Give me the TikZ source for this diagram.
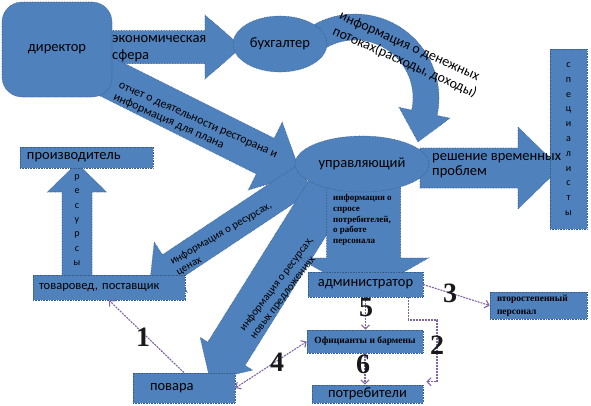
\documentclass[tikz,border=0pt]{standalone}
\usepackage{fontspec}
\setmainfont{Carlito}
\newfontfamily\timesfont{Liberation Serif}
\usetikzlibrary{calc,arrows.meta,shapes.geometric}

\definecolor{boxblue}{RGB}{79,129,189}
\definecolor{edgeblue}{RGB}{56,93,138}
\definecolor{linkpurple}{RGB}{128,100,162}

\newcommand{\mainsize}{\fontsize{14.5}{17}\selectfont}
\newcommand{\smallbold}{\timesfont\bfseries\fontsize{9}{10.8}\selectfont}

% block arrow: style, start, tip, shaft half width, head half width, head length
\newcommand{\blockarrow}[6]{%
  \coordinate (ba-h) at ($(#3)!#6!(#2)$);
  \path[#1] ($(#2)!#4!90:(#3)$) -- ($(ba-h)!#4!90:(#3)$) -- ($(ba-h)!#5!90:(#3)$)
    -- (#3) -- ($(ba-h)!#5!-90:(#3)$) -- ($(ba-h)!#4!-90:(#3)$) -- ($(#2)!#4!-90:(#3)$) -- cycle;
}

\begin{document}
\begin{tikzpicture}[x=1pt, y=-1pt,
  blk/.style={fill=boxblue, draw=edgeblue, line width=0.6pt, densely dotted},
  box/.style={blk, rectangle, inner sep=0pt, font=\mainsize},
  oval/.style={blk, ellipse, inner sep=0pt, font=\mainsize},
  link/.style={draw=linkpurple, line width=1.1pt, dash pattern=on 2pt off 1pt},
  >={Straight Barb[length=4pt,width=8pt]},
  num/.style={font=\timesfont\bfseries\fontsize{28}{28}\selectfont, text=black!90, inner sep=0pt},
  lbl/.style={inner sep=0pt, align=left}]
  \useasboundingbox (0,0) rectangle (591,405);

  % curved arrow from the accountant down to the manager
  \path[blk, shift={(355,98)}] (-125:84) arc[start angle=-125, end angle=12, radius=84]
    -- (12:97) -- (63,44) -- (12:45) -- (12:58) arc[start angle=12, end angle=-125, radius=58] -- cycle;

  % block arrows
  \blockarrow{blk}{110,47}{242,47}{16.5pt}{32pt}{37pt}
  \blockarrow{blk}{95,71}{301,174}{20pt}{38pt}{40pt}
  \blockarrow{blk}{420,168}{560,168}{20pt}{41pt}{42pt}
  \blockarrow{blk}{305,178}{150,281}{15pt}{30pt}{25pt}
  \blockarrow{blk}{330,188}{210,380}{22pt}{31pt}{31pt}
  \blockarrow{blk}{363.5,185}{363.5,295}{37pt}{65pt}{37pt}
  \blockarrow{blk}{77,277}{77,163}{15pt}{29.5pt}{29pt}

  % boxes
  \node[box, rounded corners=20pt, minimum width=110pt, minimum height=95pt] (director) at (57,49.5) {директор};
  \node[oval, minimum width=94pt, minimum height=56pt] (buh) at (280,44) {бухгалтер};
  \node[oval, minimum width=134pt, minimum height=56pt] (upr) at (362,164) {управляющий};
  \node[box, minimum width=37pt, minimum height=180pt, align=center, font=\fontsize{10}{14.8}\selectfont] (spec) at (568.5,139) {с\\п\\е\\ц\\и\\а\\л\\и\\с\\т\\ы};
  \node[box, minimum width=133pt, minimum height=21pt, text width=119pt, align=left] (proizv) at (86.5,157.5) {производитель};
  \node[box, minimum width=152pt, minimum height=25pt, text width=140pt, align=left, font=\fontsize{12.5}{15}\selectfont] (tovar) at (109,287.5) {товаровед, поставщик};
  \node[box, minimum width=115pt, minimum height=25pt] (admin) at (365.5,284.5) {администратор};
  \node[box, minimum width=97pt, minimum height=27pt, text width=83pt, align=left, font=\timesfont\bfseries\fontsize{9.5}{13}\selectfont] (vtor) at (538.5,305.5) {второстепенный\\персонал};
  \node[box, minimum width=116pt, minimum height=23pt, font=\timesfont\bfseries\fontsize{9.5}{12}\selectfont] (ofic) at (365,341.5) {Официанты и бармены};
  \node[box, minimum width=111pt, minimum height=18pt] (potr) at (367.5,394) {потребители};
  \node[box, minimum width=102pt, minimum height=30pt, text width=68pt, align=left] (povara) at (184,388) {повара};

  % texts on the arrows
  \node[lbl, anchor=west, font=\fontsize{14.5}{17}\selectfont] (ekon) at (112,48.5) {экономическая\\сфера};
  \node[lbl, rotate=-24, font=\fontsize{12}{13}\selectfont] (otchet) at (195,127) {отчет о деятельности ресторана и\\информация для плана};
  \node[lbl, rotate=-24, font=\fontsize{14}{16.5}\selectfont] (dengi) at (408,55) {информация о денежных\\потоках(расходы, доходы)};
  \node[lbl, anchor=west, font=\fontsize{14.5}{15}\selectfont] (reshenie) at (432,166) {решение временных\\проблем};
  \node[lbl, rotate=30, font=\fontsize{11}{12}\selectfont] (ceny) at (224,239) {информация о ресурсах,\\ценах};
  \node[lbl, rotate=53, font=\fontsize{11}{13}\selectfont] (novye) at (282,288) {информация о ресурсах,\\новых предложениях};
  \node[lbl, anchor=north west, font=\smallbold] (spros) at (333,194) {информация о\\спросе\\потребителей,\\о работе\\персонала};
  \node[lbl, align=center, font=\fontsize{10}{14.3}\selectfont] (resursy) at (77,220) {р\\е\\с\\у\\р\\с\\ы};

  % numbered links
  \draw[link, ->] (povara.north) -- (tovar.south);
  \draw[link, ->] ([xshift=-15pt]admin.south east) |- (437,320) |- ([shift={(3,-3)}]potr.north east);
  \draw[link, ->] (admin.east) -- (vtor.west);
  \draw[link, <->] (povara.east) -- (ofic.west);
  \draw[link, ->] (admin.south) -- (admin.south |- ofic.north);
  \draw[link, ->] (ofic.south) -- (ofic.south |- potr.north);
  \node[num] (n1) at (143,337) {1};
  \node[num] (n2) at (437,345) {2};
  \node[num] (n3) at (450,293) {3};
  \node[num] (n4) at (277,362) {4};
  \node[num] (n5) at (366,307) {5};
  \node[num] (n6) at (363,364) {6};
\end{tikzpicture}
\end{document}
